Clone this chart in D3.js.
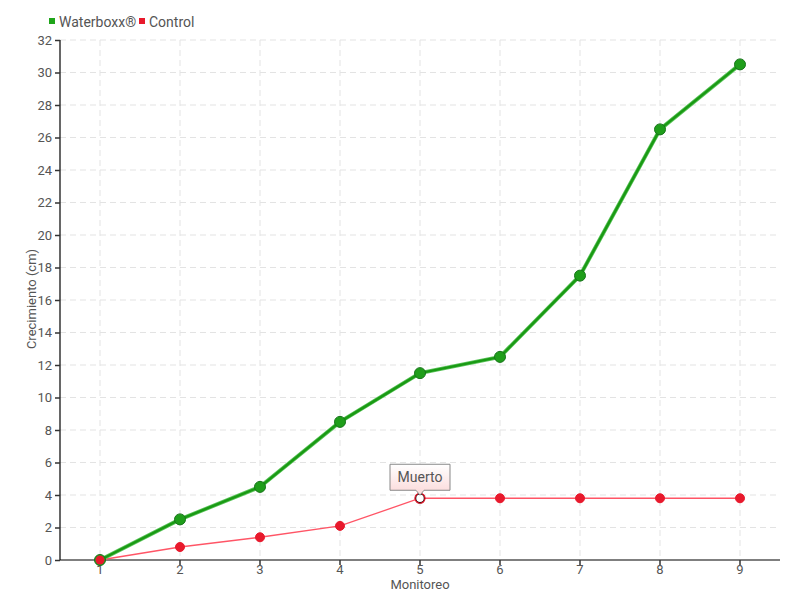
<!DOCTYPE html>
<html><head><meta charset="utf-8">
<script src="https://cdn.jsdelivr.net/npm/d3@7"></script>
<style>
body{margin:0;background:#fff;}
svg text{font-family:Roboto,"Liberation Sans",sans-serif !important;}
</style></head>
<body><svg id="c" width="800" height="600"></svg>
<script>
const categories = ["1","2","3","4","5","6","7","8","9"];
const waterboxx = [0, 2.5, 4.5, 8.5, 11.5, 12.5, 17.5, 26.5, 30.5];
const control = [0, 0.8, 1.4, 2.1, 3.8, 3.8, 3.8, 3.8, 3.8];
const yTicks = [0,2,4,6,8,10,12,14,16,18,20,22,24,26,28,30,32];
const seriesNames = ["Waterboxx®", "Control"];
const annotation = {index: 4, text: "Muerto"};

const svg = d3.select("#c");
const L = 60, R = 780, T = 40, B = 560;
const x = d3.scaleBand().domain(categories).range([L, R]);
const xc = d => x(d) + x.bandwidth()/2;
const y = d3.scaleLinear().domain([0, 32]).range([B, T]);

// gridlines
const g = svg.append("g");
g.selectAll("line.h").data(yTicks.slice(1)).join("line")
  .attr("x1", L).attr("x2", R).attr("y1", d=>y(d)).attr("y2", d=>y(d))
  .attr("stroke", "#e3e3e3").attr("stroke-dasharray", "6,4");
g.selectAll("line.v").data(categories).join("line")
  .attr("x1", d=>xc(d)).attr("x2", d=>xc(d)).attr("y1", T).attr("y2", B)
  .attr("stroke", "#e3e3e3").attr("stroke-dasharray", "6,4");

// axes
const yAxis = svg.append("g").attr("transform", `translate(${L},0)`)
  .call(d3.axisLeft(y).tickValues(yTicks).tickSize(5).tickPadding(3));
const xAxis = svg.append("g").attr("transform", `translate(0,${B})`)
  .call(d3.axisBottom(x).tickSize(5).tickPadding(0));
[yAxis, xAxis].forEach(a => {
  a.attr("font-family", null);
  a.select(".domain").attr("stroke", "#000").attr("stroke-width", 1.2);
  a.selectAll(".tick line").attr("stroke", "#333").attr("stroke-width", 1.5);
  a.selectAll(".tick text").attr("fill", "#555").style("font-size", "13px");
});
xAxis.select(".domain").attr("d", `M${L},0H${R}`);
yAxis.select(".domain").attr("d", `M0,${B}V${T}`);

// axis titles
svg.append("text").attr("x", 420).attr("y", 589).attr("text-anchor", "middle")
  .attr("fill", "#555").style("font-size", "13px").text("Monitoreo");
svg.append("text").attr("transform", "translate(36,299) rotate(-90)").attr("text-anchor", "middle")
  .attr("fill", "#555").style("font-size", "13px").text("Crecimiento (cm)");

const line = d3.line().x((d,i)=>xc(categories[i])).y(d=>y(d));

// control series
svg.append("path").datum(control).attr("d", line).attr("fill", "none")
  .attr("stroke", "#ff5566").attr("stroke-width", 1.3);
svg.selectAll("circle.c").data(control).join("circle")
  .attr("cx", (d,i)=>xc(categories[i])).attr("cy", d=>y(d)).attr("r", 4.5)
  .attr("fill", (d,i)=> i===annotation.index ? "#fff" : "#e8192c")
  .attr("stroke", (d,i)=> i===annotation.index ? "#000" : "#e8192c")
  .attr("stroke-width", (d,i)=> i===annotation.index ? 1.5 : 1);
svg.append("circle").attr("cx", xc(categories[annotation.index])).attr("cy", y(control[annotation.index]))
  .attr("r", 5).attr("fill", "none").attr("stroke", "#e8192c").attr("stroke-width", 1.2);

// waterboxx series
svg.append("path").datum(waterboxx).attr("d", line).attr("fill", "none")
  .attr("stroke", "#5cc45c").attr("stroke-width", 4);
svg.append("path").datum(waterboxx).attr("d", line).attr("fill", "none")
  .attr("stroke", "#1a9a14").attr("stroke-width", 2.5);
svg.selectAll("circle.w").data(waterboxx).join("circle")
  .attr("cx", (d,i)=>xc(categories[i])).attr("cy", d=>y(d)).attr("r", 5.5)
  .attr("fill", "#1f9e1a").attr("stroke", "#17751a").attr("stroke-width", 1);

svg.append("circle").attr("cx", xc(categories[0])).attr("cy", y(control[0])).attr("r", 4.5)
  .attr("fill", "#e8192c");

// annotation
const ax = xc(categories[annotation.index]), ay = y(control[annotation.index]);
const defs = svg.append("defs");
const grad = defs.append("linearGradient").attr("id", "ag").attr("x1",0).attr("x2",0).attr("y1",0).attr("y2",1);
grad.append("stop").attr("offset", "0%").attr("stop-color", "#fff");
grad.append("stop").attr("offset", "100%").attr("stop-color", "#fbd8d8");
const bw = 60, bh = 26, bx = ax - 30, by = ay - 34;
svg.append("path")
  .attr("d", `M${bx},${by}H${bx+bw}V${by+bh}H${ax+4}L${ax},${ay-3}L${ax-4},${by+bh}H${bx}Z`)
  .attr("fill", "url(#ag)").attr("stroke", "#888").attr("stroke-width", 1);
svg.append("text").attr("x", ax).attr("y", by + 18).attr("text-anchor", "middle")
  .attr("fill", "#555").style("font-size", "14px").text(annotation.text);

// legend
const legColors = ["#1fa51a", "#e8192c"];
const legX = [49, 139];
seriesNames.forEach((n, i) => {
  svg.append("rect").attr("x", legX[i]).attr("y", 18).attr("width", 6).attr("height", 6).attr("fill", legColors[i]);
  svg.append("text").attr("x", legX[i] + 10).attr("y", 27).attr("fill", "#555")
    .style("font-size", "14px").text(n);
});
</script></body></html>
